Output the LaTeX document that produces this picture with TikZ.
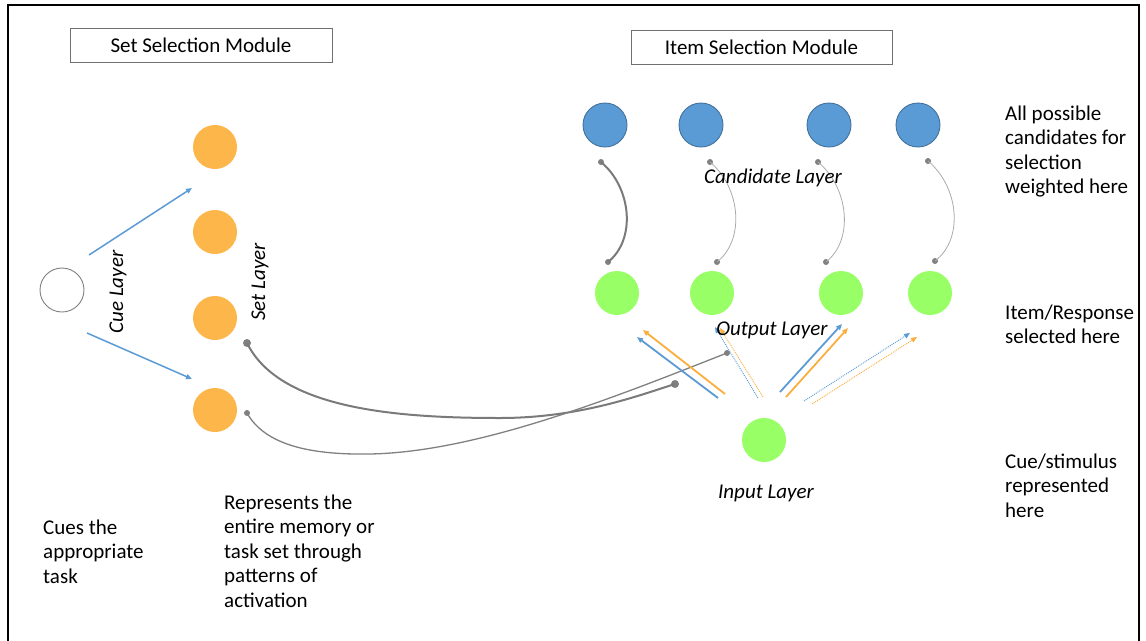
\documentclass[tikz,border=0pt]{standalone}
\usepackage{fontspec}
\setmainfont{Carlito}
\usetikzlibrary{arrows.meta}
\definecolor{nblue}{HTML}{5B9BD5}
\definecolor{nblueb}{HTML}{41719C}
\definecolor{norange}{HTML}{FCB64A}
\definecolor{ngreen}{HTML}{99FF66}
\definecolor{aorange}{HTML}{F9AE3E}
\definecolor{dotgray}{HTML}{808080}
\definecolor{thingray}{HTML}{ABABAB}
\definecolor{boxgray}{HTML}{707070}
\tikzset{
  txt/.style={font=\fontsize{21}{24.6}\selectfont, inner sep=0pt},
  itxt/.style={font=\fontsize{21}{24.6}\selectfont\itshape, inner sep=0pt},
  modbox/.style={draw=boxgray, line width=1pt, minimum width=262pt, minimum height=34pt, inner sep=0pt, font=\fontsize{21}{24.6}\selectfont},
  candnode/.style={circle, fill=nblue, draw=nblueb, line width=0.9pt, minimum size=44pt, inner sep=0pt},
  setnode/.style={circle, fill=norange, minimum size=44pt, inner sep=0pt},
  grnnode/.style={circle, fill=ngreen, minimum size=44pt, inner sep=0pt},
  cuenode/.style={circle, draw=dotgray, line width=0.9pt, fill=white, minimum size=44pt, inner sep=0pt},
  dotnode/.style={circle, fill=dotgray, inner sep=0pt, minimum size=6pt},
  bigdot/.style={circle, fill=dotgray, inner sep=0pt, minimum size=8pt},
  tip/.style={-{Triangle[length=6pt,width=5pt]}},
  blueA/.style={tip, draw=nblue, line width=1.8pt},
  orangeA/.style={tip, draw=aorange, line width=1.8pt},
  blueD/.style={tip, draw=nblue, line width=0.9pt, dash pattern=on 1pt off 1pt},
  orangeD/.style={tip, draw=aorange, line width=0.9pt, dash pattern=on 1pt off 1pt},
  thickcurve/.style={draw=dotgray!95!black, line width=2pt},
  thincurve/.style={draw=thingray, line width=0.8pt},
}
\begin{document}
\begin{tikzpicture}[x=1pt,y=-1pt]
\useasboundingbox (0,0) rectangle (1146,640);
% frame
\coordinate (fbl) at (8,645);
\coordinate (ftl) at (8,5);
\coordinate (ftr) at (1139,5);
\coordinate (fbr) at (1139,645);
\draw[line width=2pt, line join=miter] (fbl) -- (ftl) -- (ftr) -- (fbr);

% module boxes
\node[modbox] (setmod) at (201,45) {Set Selection Module};
\node[modbox, minimum width=261pt] (itemmod) at (761.5,47) {Item Selection Module};

% cue node
\node[cuenode] (cue) at (62,290) {};
% set layer
\node[setnode] (s1) at (215,147) {};
\node[setnode] (s2) at (215,232) {};
\node[setnode] (s3) at (215,318) {};
\node[setnode] (s4) at (215,410) {};

\coordinate (ca1) at (89,255);
\coordinate (ca1e) at (192,188);
\coordinate (ca2) at (87,333);
\coordinate (ca2e) at (192,379);
\draw[blueA, line width=1.5pt] (ca1) -- (ca1e);
\draw[blueA, line width=1.5pt] (ca2) -- (ca2e);

\node[itxt, rotate=90] (cuelab) at (118,292) {Cue Layer};
\node[itxt, rotate=90] (setlab) at (260,282) {Set Layer};

% candidate layer
\node[candnode] (c1) at (605,125) {};
\node[candnode] (c2) at (701,125) {};
\node[candnode] (c3) at (829,125) {};
\node[candnode] (c4) at (918,125) {};

% output layer
\node[grnnode] (o1) at (617,293) {};
\node[grnnode] (o2) at (712,293) {};
\node[grnnode] (o3) at (841,293) {};
\node[grnnode] (o4) at (930,293) {};

% input
\node[grnnode] (in) at (764,440) {};

% candidate-output curves
\node[dotnode] (d1a) at (601,162) {};
\node[dotnode] (d1b) at (608,262) {};
\node[dotnode] (d2a) at (710,162) {};
\node[dotnode] (d2b) at (717,262) {};
\node[dotnode] (d3a) at (818,162) {};
\node[dotnode] (d3b) at (826,262) {};
\node[dotnode] (d4a) at (928,161) {};
\node[dotnode] (d4b) at (935,261) {};
\draw[thickcurve] (d1a.center) .. controls (632,188) and (636,240) .. (d1b.center);
\draw[thincurve] (d2a.center) .. controls (741,188) and (745,240) .. (d2b.center);
\draw[thincurve] (d3a.center) .. controls (849,188) and (854,240) .. (d3b.center);
\draw[thincurve] (d4a.center) .. controls (959,187) and (964,239) .. (d4b.center);

% set-output curves
\node[bigdot] (e1a) at (247,343) {};
\node[bigdot] (e1b) at (675,384) {};
\node[dotnode] (e2a) at (247,413) {};
\node[dotnode] (e2b) at (727,353) {};
\draw[thickcurve] (e1a.center) .. controls (280,410) and (400,418) .. (500,418) .. controls (580,418) and (640,395) .. (e1b.center);
\draw[draw=dotgray, line width=1.3pt] (e2a.center) .. controls (265,445) and (310,455) .. (370,454) .. controls (480,452) and (620,395) .. (e2b.center);

% input-output arrows
\coordinate (a1s) at (718,398); \coordinate (a1e) at (637,337);
\coordinate (a2s) at (725,394); \coordinate (a2e) at (643,330);
\coordinate (a3s) at (758,398); \coordinate (a3e) at (715,327);
\coordinate (a4s) at (763,397); \coordinate (a4e) at (720,328);
\coordinate (a5s) at (780,392); \coordinate (a5e) at (842,324);
\coordinate (a6s) at (786,397); \coordinate (a6e) at (848,328);
\coordinate (a7s) at (804,401); \coordinate (a7e) at (910,333);
\coordinate (a8s) at (812,404); \coordinate (a8e) at (917,337);
\draw[blueA] (a1s) -- (a1e);
\draw[orangeA] (a2s) -- (a2e);
\draw[blueD] (a3s) -- (a3e);
\draw[orangeD] (a4s) -- (a4e);
\draw[blueA] (a5s) -- (a5e);
\draw[orangeA] (a6s) -- (a6e);
\draw[blueD] (a7s) -- (a7e);
\draw[orangeD] (a8s) -- (a8e);

% layer labels
\node[itxt, anchor=base] (candlab) at (773,183) {Candidate Layer};
\node[itxt, anchor=base] (outlab) at (772,335) {Output Layer};
\node[itxt, anchor=base] (inlab) at (766,498) {Input Layer};

% descriptions
\node[txt, anchor=base west] (desc1) at (1005,120) {\begin{tabular}[t]{@{}l@{}}All possible\\candidates for\\selection\\weighted here\end{tabular}};
\node[txt, anchor=base west] (desc2) at (1005,319) {\begin{tabular}[t]{@{}l@{}}Item/Response\\selected here\end{tabular}};
\node[txt, anchor=base west] (desc3) at (1005,468) {\begin{tabular}[t]{@{}l@{}}Cue/stimulus\\represented\\here\end{tabular}};
\node[txt, anchor=base west] (desc4) at (43,534) {\begin{tabular}[t]{@{}l@{}}Cues the\\appropriate\\task\end{tabular}};
\node[txt, anchor=base west] (desc5) at (224,509) {\begin{tabular}[t]{@{}l@{}}Represents the\\entire memory or\\task set through\\patterns of\\activation\end{tabular}};
\end{tikzpicture}
\end{document}
